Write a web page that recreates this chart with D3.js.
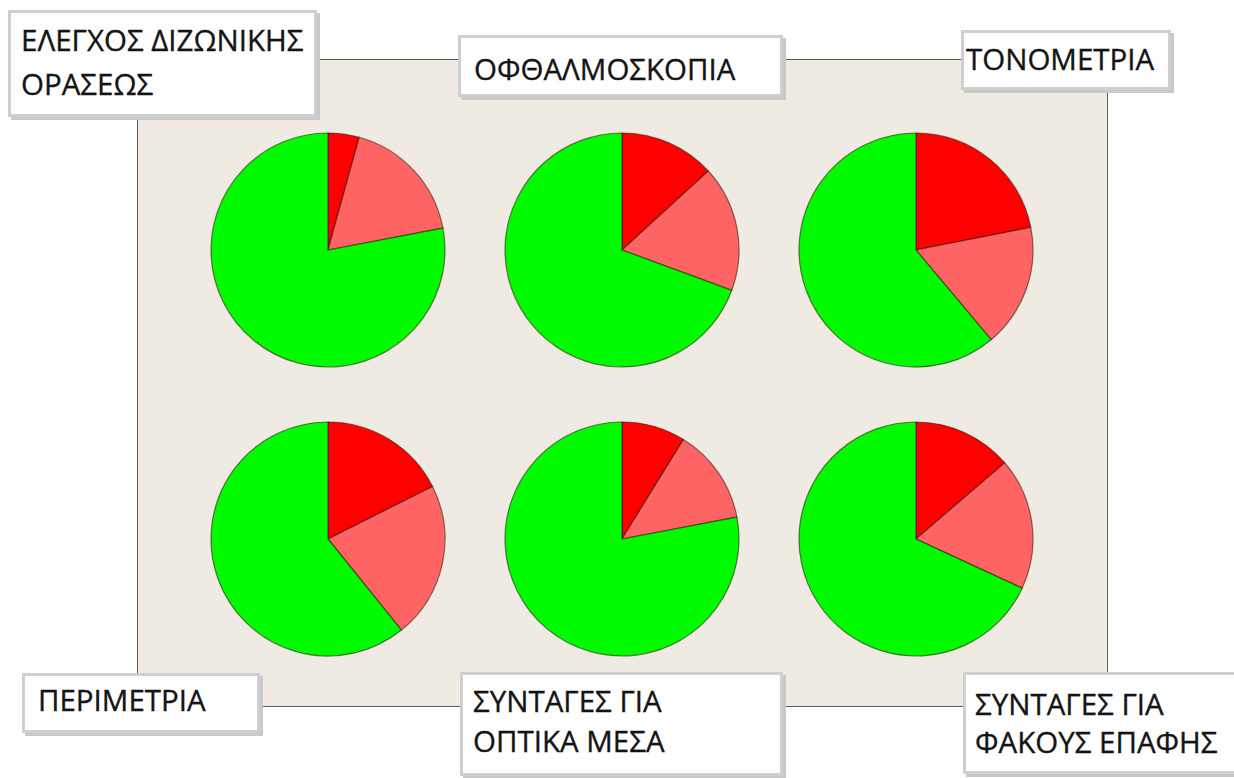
<!DOCTYPE html>
<html lang="el">
<head>
<meta charset="UTF-8">
<title>Pies</title>
<script src="https://d3js.org/d3.v7.min.js"></script>
<style>
    body { margin: 0; background: #fff; }
    text { font-family: 'Open Sans', sans-serif; fill: #141414; stroke: #141414; stroke-width: 0.35; }
</style>
</head>
<body>
<script>

    const width  = 1234;
    const height = 778;

    // one entry per pie (percent)
    const tests = [
        ['ΕΛΕΓΧΟΣ ΔΙΖΩΝΙΚΗΣ', 'ΟΡΑΣΕΩΣ'],
        ['ΟΦΘΑΛΜΟΣΚΟΠΙΑ'],
        ['ΤΟΝΟΜΕΤΡΙΑ'],
        ['ΠΕΡΙΜΕΤΡΙΑ'],
        ['ΣΥΝΤΑΓΕΣ ΓΙΑ', 'ΟΠΤΙΚΑ ΜΕΣΑ'],
        ['ΣΥΝΤΑΓΕΣ ΓΙΑ', 'ΦΑΚΟΥΣ ΕΠΑΦΗΣ']
    ];
    const darkRed  = [4.3, 13.2, 21.9, 17.6, 8.8, 13.7];
    const lightRed = [17.7, 17.4, 17.0, 21.6, 13.2, 18.2];
    const green    = [78.0, 69.4, 61.1, 60.8, 78.0, 68.1];

    const colors = ['#ff0000', '#ff6464', '#00fa00'];

    // label boxes, in picture coordinates
    const boxes = [
        {x: 8,   y: 10,  w: 309, h: 107, tx: 21,  ty: [51, 95]},
        {x: 458, y: 35,  w: 325, h: 62,  tx: 474, ty: [80]},
        {x: 961, y: 30,  w: 210, h: 60,  tx: 966, ty: [70]},
        {x: 22,  y: 673, w: 238, h: 60,  tx: 38,  ty: [711]},
        {x: 460, y: 672, w: 323, h: 104, tx: 473, ty: [712, 752]},
        {x: 963, y: 672, w: 275, h: 102, tx: 975, ty: [715, 753]}
    ];

    const svg = d3.select('body').append('svg')
        .attr('width', width)
        .attr('height', height);

    // panel
    svg.append('rect')
        .attr('x', 137.5).attr('y', 59.5)
        .attr('width', 970).attr('height', 647)
        .attr('fill', '#efebe3')
        .attr('stroke', '#5a5a5a')
        .attr('stroke-width', 1);

    const col = d3.scalePoint().domain([0, 1, 2]).range([328, 916]);
    const row = d3.scalePoint().domain([0, 1]).range([250, 539]);
    const radius = 117;

    const pie = d3.pie().sort(null).value(d => d);
    const arc = d3.arc().innerRadius(0).outerRadius(radius);

    tests.forEach((t, i) => {
        const g = svg.append('g')
            .attr('transform', 'translate(' + [col(i % 3), row(Math.floor(i / 3))] + ')');
        g.selectAll('path')
            .data(pie([darkRed[i], lightRed[i], green[i]]))
            .enter().append('path')
            .attr('d', arc)
            .attr('fill', (d, j) => colors[j])
            .attr('stroke', 'rgba(40,20,0,0.55)')
            .attr('stroke-width', 1.2);
    });

    // labels
    tests.forEach((t, i) => {
        const b = boxes[i];
        const g = svg.append('g');
        g.append('rect')
            .attr('x', b.x + 3).attr('y', b.y + 3)
            .attr('width', b.w).attr('height', b.h)
            .attr('fill', '#c9c9c9');
        g.append('rect')
            .attr('x', b.x + 1.5).attr('y', b.y + 1.5)
            .attr('width', b.w - 3).attr('height', b.h - 3)
            .attr('fill', '#fff')
            .attr('stroke', '#cfcfcf')
            .attr('stroke-width', 3);
        t.forEach((line, k) => {
            g.append('text')
                .attr('x', b.tx)
                .attr('y', b.ty[k])
                .attr('font-size', 29.5)
                .text(line);
        });
    });

</script>
</body>
</html>
